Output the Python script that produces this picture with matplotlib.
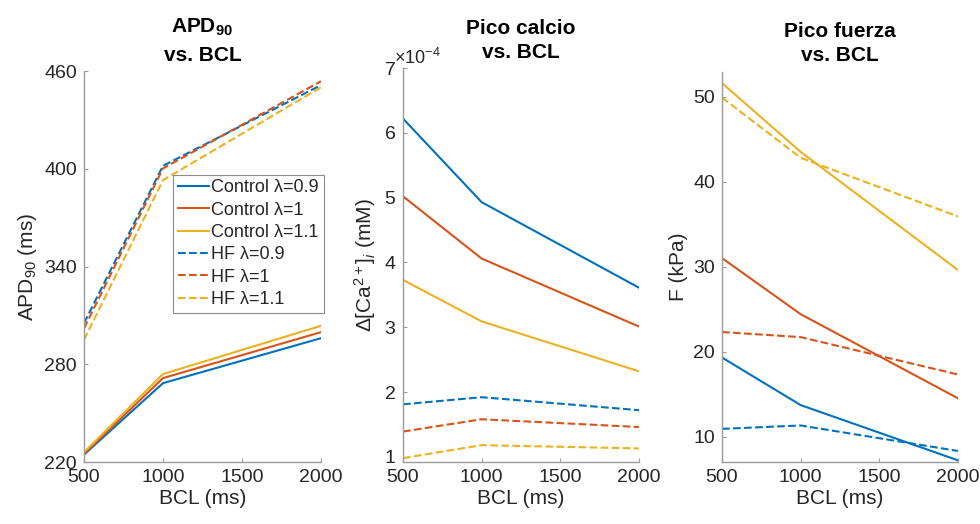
import numpy as np
import matplotlib
matplotlib.use("Agg")
import matplotlib.pyplot as plt
from matplotlib.ticker import ScalarFormatter

plt.rcParams['font.family'] = ['Liberation Sans', 'DejaVu Sans']
plt.rcParams['mathtext.fontset'] = 'custom'
plt.rcParams['mathtext.rm'] = 'Liberation Sans'
plt.rcParams['mathtext.it'] = 'Liberation Sans:italic'
plt.rcParams['mathtext.bf'] = 'Liberation Sans:bold'

# --- data ---
bcl = [500, 1000, 2000]

labels = ['Control λ=0.9', 'Control λ=1', 'Control λ=1.1',
          'HF λ=0.9', 'HF λ=1', 'HF λ=1.1']

apd_ctrl_09 = [224.5, 268.4, 296.0]
apd_ctrl_10 = [225.0, 271.5, 299.7]
apd_ctrl_11 = [226.0, 274.0, 303.6]
apd_hf_09 = [305.2, 401.8, 451.3]
apd_hf_10 = [302.0, 400.2, 453.7]
apd_hf_11 = [295.0, 393.0, 450.0]

ca_ctrl_09 = [6.22e-4, 4.93e-4, 3.61e-4]
ca_ctrl_10 = [5.02e-4, 4.06e-4, 3.01e-4]
ca_ctrl_11 = [3.73e-4, 3.09e-4, 2.32e-4]
ca_hf_09 = [1.81e-4, 1.92e-4, 1.72e-4]
ca_hf_10 = [1.39e-4, 1.58e-4, 1.46e-4]
ca_hf_11 = [0.98e-4, 1.18e-4, 1.13e-4]

f_ctrl_09 = [19.3, 13.7, 7.2]
f_ctrl_10 = [31.0, 24.4, 14.5]
f_ctrl_11 = [51.6, 43.5, 29.6]
f_hf_09 = [10.9, 11.3, 8.3]
f_hf_10 = [22.3, 21.7, 17.3]
f_hf_11 = [49.9, 42.8, 35.9]

colors = ['#0072BD', '#D95319', '#EDB120']
txt = '#262626'
axc = '#9a9a9a'

fig = plt.figure(figsize=(9.8, 5.24), dpi=100)
ax1 = fig.add_axes([0.0857, 0.1183, 0.2418, 0.7462])
ax2 = fig.add_axes([0.4112, 0.1183, 0.2408, 0.7519])
ax3 = fig.add_axes([0.7367, 0.1183, 0.2408, 0.7443])


def style(ax):
    for s in ['top', 'right']:
        ax.spines[s].set_visible(False)
    for s in ['left', 'bottom']:
        ax.spines[s].set_color(axc)
        ax.spines[s].set_linewidth(1.0)
    ax.tick_params(direction='in', length=3, width=0.8, color=axc,
                   labelsize=14, labelcolor=txt, pad=5)
    ax.set_xlim(500, 2000)
    ax.set_xticks([500, 1000, 1500, 2000])
    ax.set_xlabel('BCL (ms)', fontsize=15, color=txt, labelpad=2)


def draw(ax, solid, dashed):
    handles = []
    for y, c in zip(solid, colors):
        handles += ax.plot(bcl, y, '-', color=c, lw=1.5)
    for y, c in zip(dashed, colors):
        handles += ax.plot(bcl, y, '--', color=c, lw=1.5)
    return handles


# APD90
h = draw(ax1, [apd_ctrl_09, apd_ctrl_10, apd_ctrl_11], [apd_hf_09, apd_hf_10, apd_hf_11])
style(ax1)
ax1.set_ylim(220, 460)
ax1.set_yticks([220, 280, 340, 400, 460])
ax1.set_ylabel(r'APD$_{90}$ (ms)', fontsize=15, color=txt, labelpad=4)
ax1.set_title('APD$_{\\mathbf{90}}$\nvs. BCL', fontsize=15, fontweight='bold',
              pad=7, linespacing=1.55)
leg = ax1.legend(h, labels, loc='upper left', bbox_to_anchor=(0.376, 0.735),
                 fontsize=13, frameon=True, fancybox=False, framealpha=1,
                 edgecolor='#8c8c8c', handlelength=1.75, handletextpad=0.12,
                 labelspacing=0.3, borderpad=0.25, borderaxespad=0)
leg.get_frame().set_linewidth(0.8)
for t in leg.get_texts():
    t.set_color(txt)

# peak calcium
draw(ax2, [ca_ctrl_09, ca_ctrl_10, ca_ctrl_11], [ca_hf_09, ca_hf_10, ca_hf_11])
style(ax2)
ax2.set_ylim(0.92e-4, 7e-4)
ax2.set_yticks(np.arange(1, 8) * 1e-4)
fmt = ScalarFormatter(useMathText=True)
fmt.set_powerlimits((-3, 3))
ax2.yaxis.set_major_formatter(fmt)
off = ax2.yaxis.get_offset_text()
off.set_fontsize(13)
off.set_color(txt)
off.set_x(-0.04)
ax2.set_ylabel(r'$\Delta$[Ca$^{2+}$]$_i$ (mM)', fontsize=15, color=txt, labelpad=4)
ax2.set_title('Pico calcio\nvs. BCL', fontsize=15, fontweight='bold',
              pad=7, linespacing=1.35)

# peak force
draw(ax3, [f_ctrl_09, f_ctrl_10, f_ctrl_11], [f_hf_09, f_hf_10, f_hf_11])
style(ax3)
ax3.set_ylim(7.0, 52.9)
ax3.set_yticks([10, 20, 30, 40, 50])
ax3.set_ylabel('F (kPa)', fontsize=15, color=txt, labelpad=4)
ax3.set_title('Pico fuerza\nvs. BCL', fontsize=15, fontweight='bold',
              pad=8, linespacing=1.35)

fig.savefig('out.png', dpi=100)
